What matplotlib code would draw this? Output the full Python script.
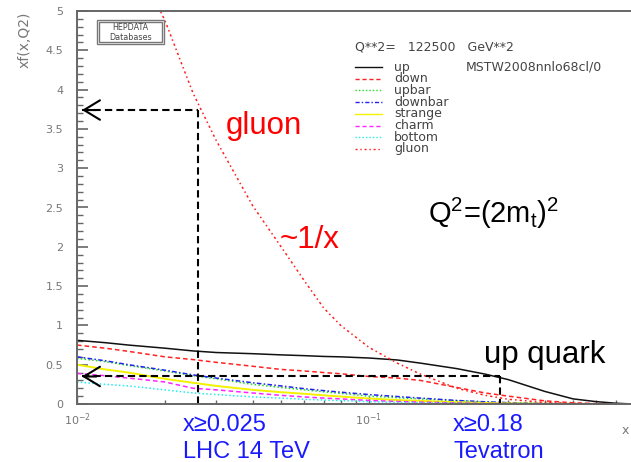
import matplotlib
matplotlib.use("Agg")
import matplotlib.pyplot as plt
from matplotlib.lines import Line2D
from matplotlib.patches import Rectangle
from matplotlib.ticker import (FixedLocator, FixedFormatter, MultipleLocator,
                               NullFormatter, FuncFormatter)

# ---- parton distributions xf(x, Q^2) at Q^2 = 122500 GeV^2 (MSTW2008nnlo68cl) ----
x = [0.01, 0.0125, 0.015, 0.02, 0.025, 0.03, 0.04, 0.05, 0.06, 0.07, 0.08,
     0.1, 0.125, 0.15, 0.2, 0.25, 0.3, 0.4, 0.5, 0.6, 0.7, 0.8]

up = [0.81, 0.78, 0.75, 0.71, 0.675, 0.655, 0.64, 0.625, 0.615, 0.605, 0.60,
      0.585, 0.56, 0.52, 0.45, 0.38, 0.31, 0.16, 0.065, 0.03, 0.01, 0.0]
down = [0.75, 0.71, 0.67, 0.60, 0.565, 0.53, 0.48, 0.44, 0.42, 0.40, 0.385,
        0.35, 0.33, 0.30, 0.21, 0.14, 0.10, 0.04, 0.015, 0.005, 0.0, 0.0]
upbar = [0.58, 0.54, 0.49, 0.42, 0.36, 0.32, 0.25, 0.21, 0.18, 0.155, 0.135,
         0.10, 0.08, 0.065, 0.04, 0.025, 0.015, 0.005, 0.002, 0.0, 0.0, 0.0]
downbar = [0.60, 0.55, 0.50, 0.43, 0.37, 0.33, 0.27, 0.23, 0.195, 0.17, 0.15,
           0.12, 0.095, 0.075, 0.045, 0.028, 0.017, 0.006, 0.002, 0.0, 0.0, 0.0]
strange = [0.50, 0.44, 0.40, 0.32, 0.27, 0.23, 0.18, 0.15, 0.13, 0.11, 0.095,
           0.07, 0.05, 0.04, 0.022, 0.013, 0.008, 0.003, 0.001, 0.0, 0.0, 0.0]
charm = [0.39, 0.36, 0.33, 0.28, 0.20, 0.18, 0.14, 0.11, 0.09, 0.075, 0.065,
         0.045, 0.032, 0.024, 0.013, 0.007, 0.004, 0.001, 0.0, 0.0, 0.0, 0.0]
bottom = [0.28, 0.25, 0.23, 0.18, 0.14, 0.12, 0.09, 0.075, 0.06, 0.05, 0.043,
          0.03, 0.021, 0.016, 0.009, 0.005, 0.003, 0.001, 0.0, 0.0, 0.0, 0.0]

x_gluon = [0.019, 0.02, 0.025, 0.03, 0.04, 0.05, 0.06, 0.07, 0.08, 0.1, 0.125,
           0.15, 0.2, 0.25, 0.3, 0.4, 0.5, 0.6, 0.7, 0.8]
gluon = [5.05, 4.88, 3.95, 3.35, 2.52, 2.0, 1.57, 1.22, 1.0, 0.72, 0.52,
         0.38, 0.20, 0.11, 0.06, 0.02, 0.008, 0.003, 0.001, 0.0]

# annotation anchors
lhc_x, gluon_at_lhc = 0.026, 3.74
tev_x, up_at_tev = 0.28, 0.35
arrow_tip_x = 0.0104

# ---- styles ----
series = [
    ("up", x, up, "#111111", "-"),
    ("down", x, down, "#ff2222", (0, (3, 2))),
    ("upbar", x, upbar, "#22dd22", (0, (1, 1.5))),
    ("downbar", x, downbar, "#2222ee", (0, (3, 1.5, 1, 1.5))),
    ("strange", x, strange, "#f2f200", "-"),
    ("charm", x, charm, "#ff22ff", (0, (3, 2))),
    ("bottom", x, bottom, "#22eeee", (0, (1, 1.5))),
    ("gluon", x_gluon, gluon, "#ff2020", (0, (1.5, 2, 1, 2))),
]

W, H = 631, 462
fig = plt.figure(figsize=(W / 100, H / 100), dpi=100)
fig.patch.set_facecolor("white")


def fx(px):
    return px / W


def fy(py):
    return 1 - py / H


ax = fig.add_axes([fx(77), fy(404), 1 - fx(77), (404 - 11) / H])
ax.set_xscale("log")
ax.set_xlim(0.01, 10 ** (-2 + 554 / 292))
ax.set_ylim(0, 5)

for name, xs, ys, col, ls in series:
    ax.plot(xs, ys, color=col, linestyle=ls, lw=1.1 if name != "strange" else 1.4)

# axes look
spine_col = "#666666"
for s in ("left", "bottom", "top"):
    ax.spines[s].set_color(spine_col)
    ax.spines[s].set_linewidth(1.4)
ax.spines["right"].set_visible(False)

ax.yaxis.set_major_locator(MultipleLocator(0.5))
ax.yaxis.set_minor_locator(MultipleLocator(0.1))
ax.yaxis.set_major_formatter(FuncFormatter(lambda v, p: f"{v:g}"))
ax.xaxis.set_major_locator(FixedLocator([0.01, 0.1]))
ax.xaxis.set_major_formatter(FixedFormatter([r"$10^{-2}$", r"$10^{-1}$"]))
ax.xaxis.set_minor_locator(FixedLocator([k * 0.01 for k in range(2, 10)] +
                                        [k * 0.1 for k in range(2, 8)]))
ax.xaxis.set_minor_formatter(NullFormatter())
ax.tick_params(axis="y", which="major", direction="in", length=8, width=1.2,
               color=spine_col, labelcolor="#777777", labelsize=8, pad=10)
ax.tick_params(axis="y", which="minor", direction="in", length=4.5, width=1.0,
               color=spine_col)
ax.tick_params(axis="x", which="major", direction="in", length=6, width=1.0,
               color=spine_col, labelcolor="#777777", labelsize=8, pad=5)
ax.tick_params(axis="x", which="minor", direction="in", length=3, width=1.0,
               color=spine_col)
ax.tick_params(top=False, right=False)

fig.text(fx(25), fy(40), "xf(x,Q2)", rotation=90, ha="center", va="center",
         color="#777777", fontsize=10)
fig.text(fx(625), fy(430), "x", ha="center", va="center", color="#777777",
         fontsize=9)

# logo box
fig.add_artist(Rectangle((fx(97), fy(44)), (164 - 97) / W, 24 / H,
                         transform=fig.transFigure, fill=False,
                         edgecolor="#777777", lw=1.0))
fig.add_artist(Rectangle((fx(99), fy(42)), (162 - 99) / W, 20 / H,
                         transform=fig.transFigure, fill=False,
                         edgecolor="#777777", lw=1.0))
fig.text(fx(130.5), fy(27), "HEPDATA", ha="center", va="center",
         fontsize=5.8, color="#444444")
fig.text(fx(130.5), fy(37), "Databases", ha="center", va="center",
         fontsize=5.8, color="#444444")

# key
key_col = "#444444"
fig.text(fx(355), fy(47), "Q**2=   122500   GeV**2", ha="left", va="center",
         fontsize=9, color=key_col)
fig.text(fx(466), fy(67), "MSTW2008nnlo68cl/0", ha="left", va="center",
         fontsize=9, color=key_col)
for i, (name, xs, ys, col, ls) in enumerate(series):
    yy = fy(67 + i * 11.7)
    fig.add_artist(Line2D([fx(355), fx(382)], [yy, yy], transform=fig.transFigure,
                          color=col, linestyle=ls, lw=1.0))
    fig.text(fx(394), yy, name, ha="left", va="center", fontsize=9, color=key_col)

# dashed guide lines with open arrow heads
dash = (0, (3.5, 2))
ax.plot([arrow_tip_x, lhc_x], [gluon_at_lhc, gluon_at_lhc], color="black",
        lw=1.5, linestyle=dash)
ax.plot([lhc_x, lhc_x], [gluon_at_lhc, 0], color="black", lw=1.5, linestyle=dash)
ax.plot([arrow_tip_x, tev_x], [up_at_tev, up_at_tev], color="black",
        lw=1.5, linestyle=dash)
ax.plot([tev_x, tev_x], [up_at_tev, 0], color="black", lw=1.5, linestyle=dash,
        clip_on=False)
for yv in (gluon_at_lhc, up_at_tev):
    ax.annotate("", xy=(arrow_tip_x, yv), xytext=(arrow_tip_x * 1.12, yv),
                arrowprops=dict(arrowstyle="->,head_length=1.15,head_width=0.7",
                                color="black", lw=1.5, mutation_scale=10,
                                shrinkA=0, shrinkB=0))

big = dict(family="Liberation Sans", fontsize=22.5)
fig.text(fx(226), fy(126), "gluon", color="#ff0000", ha="left", va="center", **big)
fig.text(fx(280), fy(240), "~1/x", color="#ff0000", ha="left", va="center", **big)
fig.text(fx(484), fy(355), "up quark", color="black", ha="left", va="center", **big)

plt.rcParams["mathtext.fontset"] = "custom"
plt.rcParams["mathtext.rm"] = "Liberation Sans"
plt.rcParams["mathtext.it"] = "Liberation Sans"
fig.text(fx(428), fy(213), r"Q$^2$=(2m$_\mathrm{t}$)$^2$", color="black",
         ha="left", va="center", family="Liberation Sans", fontsize=21)

blue = "#1a1aff"
small = dict(family="Liberation Sans", fontsize=17, color=blue, ha="left",
             va="center")
fig.text(fx(183), fy(425), "x≥0.025", **small)
fig.text(fx(183), fy(452), "LHC 14 TeV", **small)
fig.text(fx(453), fy(425), "x≥0.18", **small)
fig.text(fx(453), fy(452), "Tevatron", **small)

fig.savefig("out.png", dpi=100, facecolor="white")
